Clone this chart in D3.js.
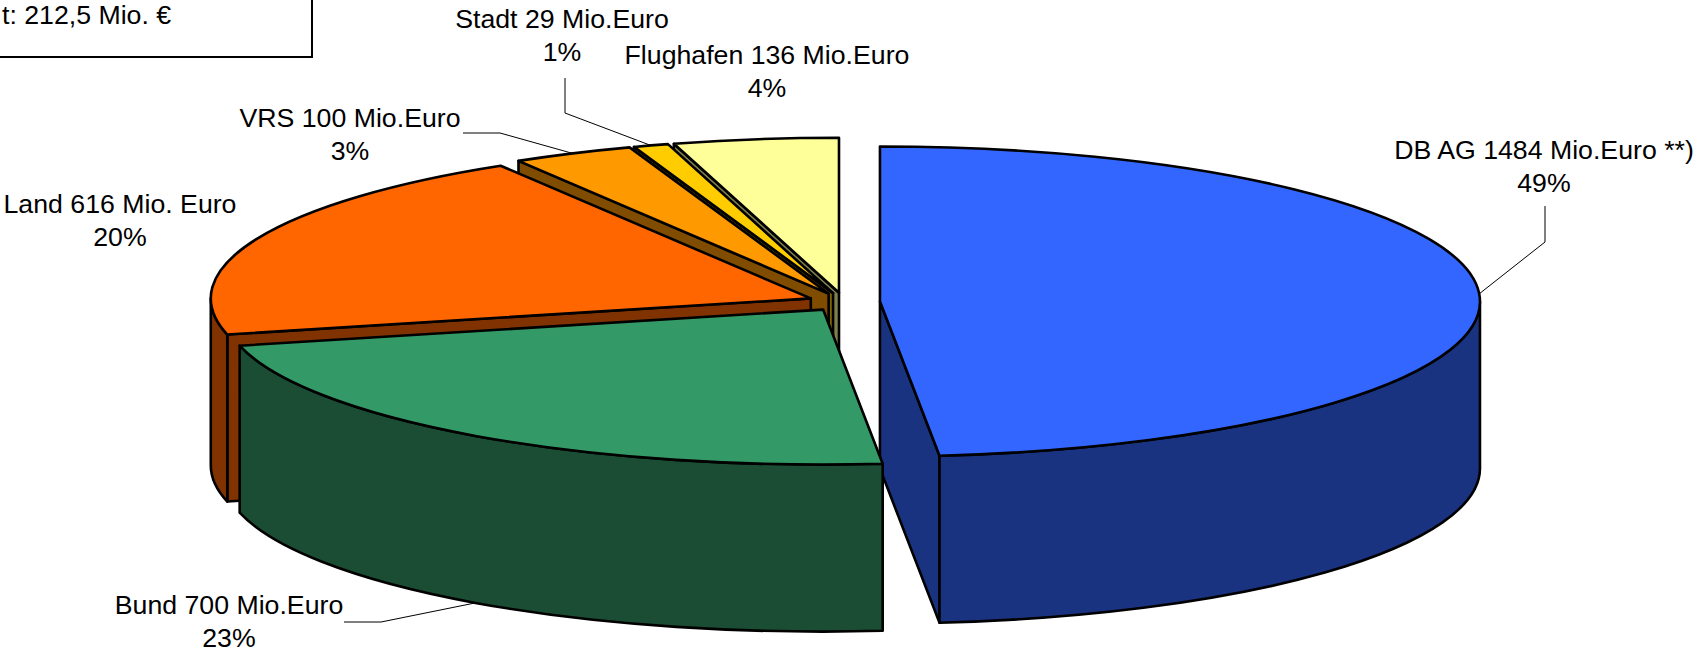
<!DOCTYPE html>
<html><head><meta charset="utf-8">
<script src="https://cdn.jsdelivr.net/npm/d3@7"></script>
<style>body{margin:0;background:#fff;overflow:hidden} svg{display:block}</style>
</head><body>
<script>
// ---- data ----
const categories = ["DB AG","Bund","Land","VRS","Stadt","Flughafen"];
const values = [1484, 700, 616, 100, 29, 136];
const labelTexts = ["DB AG 1484 Mio.Euro **)","Bund 700 Mio.Euro","Land 616 Mio. Euro","VRS 100 Mio.Euro","Stadt 29 Mio.Euro","Flughafen 136 Mio.Euro"];
const percentLabels = ["49%","23%","20%","3%","1%","4%"];
const boxText = "t: 212,5 Mio. €";

// ---- styles / layout ----
const topColors = ["#3366FF","#339966","#FF6600","#FF9900","#FFCC00","#FFFF99"];
const W = 1697, H = 653;
const Cx = 844, Cy = 302, RX = 600, RY = 155, DEPTH = 167, EXPLODE = 0.06;
const labelPos = [[1544,159],[229,614],[120,213],[350,127],[562,28],[767,64]];
const leaderBends = [[[1545,206],[1545,242]], [[344,622],[381,622]], null, [[463,133],[500,133]], [[565,78],[565,113]], null];
const FONT = "'Liberation Sans', Arial, sans-serif";
const FS = 26.7, LINE = 33;

const svg = d3.select("body").append("svg").attr("width", W).attr("height", H);
svg.append("rect").attr("width", W).attr("height", H).attr("fill", "#fff");

const xS = d3.scaleLinear().domain([-1, 1]).range([Cx - RX, Cx + RX]);
const yS = d3.scaleLinear().domain([-1, 1]).range([Cy + RY, Cy - RY]);
const arcs = d3.pie().sort(null).value(d => d)(values);
arcs.forEach((a, i) => {
  a.i = i;
  a.mid = (a.startAngle + a.endAngle) / 2;
  a.ox = EXPLODE * Math.sin(a.mid);
  a.oy = EXPLODE * Math.cos(a.mid);
});
function dark(c){ const k = d3.rgb(c); return d3.rgb(k.r/2, k.g/2, k.b/2).formatHex(); }
function P(a, th, dz = 0){ return [xS(a.ox + Math.sin(th)), yS(a.oy + Math.cos(th)) + dz]; }
function apex(a, dz = 0){ return [xS(a.ox), yS(a.oy) + dz]; }
function arcTo(a, th0, th1, dz){
  const p = P(a, th1, dz);
  const large = Math.abs(th1 - th0) > Math.PI ? 1 : 0;
  const sweep = th1 > th0 ? 1 : 0;
  return `A${RX},${RY} 0 ${large} ${sweep} ${p[0]},${p[1]}`;
}
const pieG = svg.append("g")
  .attr("stroke", "#000").attr("stroke-width", 2.6).attr("stroke-linejoin", "round");

const order = arcs.slice().sort((p, q) => Math.cos(q.mid) - Math.cos(p.mid));
order.forEach(a => {
  const g = pieG.append("g");
  const top = topColors[a.i], side = dark(top);
  const a0 = a.startAngle, a1 = a.endAngle;
  const radial = th => {
    const A = apex(a), B = P(a, th), Cc = P(a, th, DEPTH), D = apex(a, DEPTH);
    g.append("path").attr("fill", side)
      .attr("d", `M${A}L${B}L${Cc}L${D}Z`);
  };
  if (Math.sin(a0) < -1e-6) radial(a0);
  if (Math.sin(a1) > 1e-6) radial(a1);
  const s = Math.max(a0, Math.PI / 2), e = Math.min(a1, 3 * Math.PI / 2);
  if (e > s) {
    g.append("path").attr("fill", side)
      .attr("d", `M${P(a, s)}${arcTo(a, s, e, 0)}L${P(a, e, DEPTH)}${arcTo(a, e, s, DEPTH)}Z`);
  }
  g.append("path").attr("fill", top)
    .attr("d", `M${apex(a)}L${P(a, a0)}${arcTo(a, a0, a1, 0)}Z`);
});

// leader lines
arcs.forEach(a => {
  const b = leaderBends[a.i];
  if (!b) return;
  const front = Math.cos(a.mid) < 0;
  const anchor = P(a, a.mid, front ? DEPTH : 0);
  svg.append("path").attr("fill", "none").attr("stroke", "#000").attr("stroke-width", 1)
    .attr("d", d3.line()([...b, anchor]));
});

// labels
arcs.forEach(a => {
  const [x, y] = labelPos[a.i];
  const t = svg.append("text").attr("font-family", FONT).attr("font-size", FS)
    .attr("text-anchor", "middle").attr("fill", "#000");
  t.append("tspan").attr("x", x).attr("y", y).text(labelTexts[a.i]);
  t.append("tspan").attr("x", x).attr("y", y + LINE).text(percentLabels[a.i]);
});

// box top-left
svg.append("rect").attr("x", -20).attr("y", -20).attr("width", 332).attr("height", 77)
  .attr("fill", "#fff").attr("stroke", "#000").attr("stroke-width", 2);
svg.append("text").attr("x", 2).attr("y", 24).attr("text-anchor", "start")
  .attr("font-family", FONT).attr("font-size", FS).attr("fill", "#000").text(boxText);
</script>
</body></html>
